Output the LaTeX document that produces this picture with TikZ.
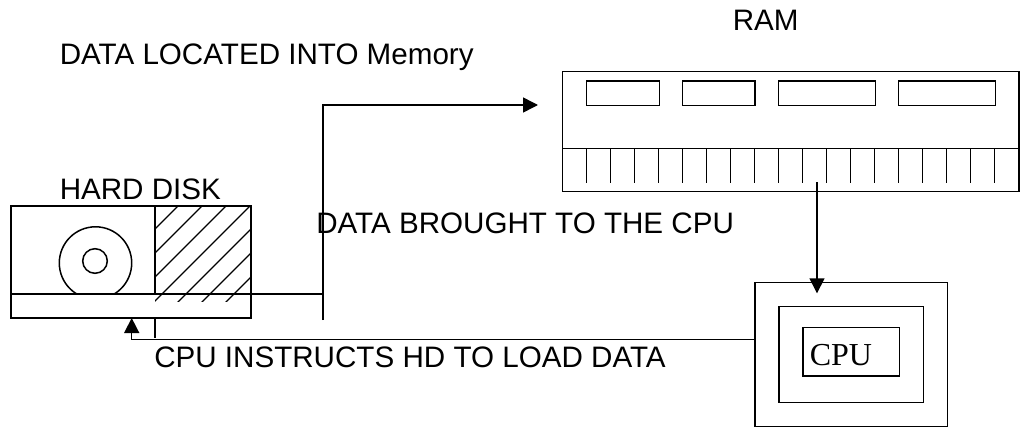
\documentclass[tikz,border=0pt]{standalone}
\usepackage{fontspec}
\setmainfont{Liberation Sans}
\newfontfamily\serifcpu{Liberation Serif}
\usetikzlibrary{arrows.meta}
\begin{document}
\begin{tikzpicture}[x=1pt,y=-1pt,line width=1.5pt,
  box/.style={draw,rectangle,inner sep=0pt,outer sep=0pt},
  lbl/.style={anchor=base west,inner sep=0pt,font=\fontsize{29.6}{31}\selectfont},
  arr/.style={-{Triangle[length=15pt,width=15pt]}},
  tick/.style={line width=1.3pt}]
\useasboundingbox (0,0) rectangle (1025,428);

% ---------- Hard disk ----------
\node[box,minimum width=240pt,minimum height=112pt] (hd) at (131,262) {};
\draw (155,206) -- (155,294);
\begin{scope}
  \clip (155,206) rectangle (251,301);
  \foreach \c in {384,408,...,528}
    \draw[tick] ({\c-320},320) -- ({\c-190},190);
\end{scope}
\begin{scope}
  \clip (11,206) rectangle (155,294);
  \draw (95.5,263) circle[radius=36.2];
\end{scope}
\draw (95,261) circle[radius=12.3];
\coordinate (junc) at (323,294);
\draw (hd.west |- junc) -- (junc);
\coordinate (stubtop) at (155,318);
\coordinate (stubbot) at (155,338);
\draw (stubtop) -- (stubbot);

% ---------- RAM ----------
\node[box,minimum width=456.3pt,minimum height=120pt] (ram) at (790.85,131.7) {};
\node[box,minimum width=72.6pt,minimum height=24.7pt] (c1) at (623,93.35) {};
\node[box,minimum width=72.3pt,minimum height=24.7pt] (c2) at (718.85,93.35) {};
\node[box,minimum width=96.6pt,minimum height=24.7pt] (c3) at (827,93.35) {};
\node[box,minimum width=96.6pt,minimum height=24.7pt] (c4) at (947,93.35) {};
\draw (ram.west |- 0,148.3) -- (ram.east |- 0,148.3);
\foreach \k in {0,...,17}
  \draw ({586.7+24*\k},148.3) -- ({586.7+24*\k},183.3);

% ---------- CPU ----------
\node[box,minimum width=192.7pt,minimum height=144pt] (cpuo) at (851.35,354.7) {};
\node[box,minimum width=144.3pt,minimum height=96pt] (cpum) at (851.15,354.7) {};
\node[box,minimum width=96.7pt,minimum height=48.3pt] (cpui) at (851.35,351.85) {};
\node[anchor=base west,inner sep=0pt,font=\serifcpu\fontsize{32}{33}\selectfont] (cputxt) at (809,365) {CPU};

% ---------- connectors ----------
\coordinate (vbot) at (323,320);
\coordinate (vtop) at (323,105);
\coordinate (toram) at (538,105);
\draw[arr] (vbot) -- (vtop) -- (toram);

\coordinate (ramout) at (817,182);
\coordinate (cpuhit) at (817,293.3);
\draw[arr] (ramout) -- (cpuhit);

\coordinate (cpuin) at (cpuo.west |- 0,339.5);
\coordinate (bend) at (131.7,339.5);
\draw[arr] (cpuin) -- (bend) -- (bend |- hd.south);

% ---------- labels ----------
\node[lbl] (tloc) at (59,64.5) {DATA LOCATED INTO Memory};
\node[lbl] (tram) at (732,30.7) {RAM};
\node[lbl] (thd) at (59,199.3) {HARD DISK};
\node[lbl] (tbrought) at (315.5,233.3) {DATA BROUGHT TO THE CPU};
\node[lbl] (tinstr) at (153.5,367.5) {CPU INSTRUCTS HD TO LOAD DATA};
\end{tikzpicture}
\end{document}
